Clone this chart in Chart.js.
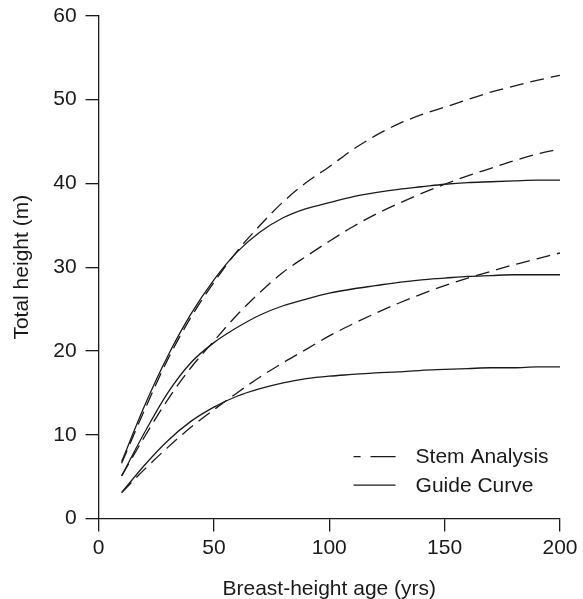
<!DOCTYPE html>
<html>
<head>
<meta charset="utf-8">
<script src="https://cdn.jsdelivr.net/npm/chart.js@4.4.0/dist/chart.umd.min.js"></script>
<style>
  html, body { margin: 0; padding: 0; background: #fff; }
  #wrap { width: 583px; height: 599px; }
</style>
</head>
<body>
<div id="wrap"><canvas id="heightChart" width="583" height="599"></canvas></div>
<script>
// --- Data ---
const ages = [10, 20, 30, 40, 50, 60, 70, 80, 90, 100, 110, 120, 130, 140, 150, 160, 170, 180, 190, 200];

// stem analysis (dashed)
const stemTop = [6.6, 13.0, 19.0, 24.0, 28.2, 31.9, 35.0, 37.8, 40.1, 42.0, 44.0, 45.7, 47.1, 48.2, 49.1, 50.0, 50.9, 51.6, 52.3, 52.9];
const stemMid = [5.1, 9.8, 14.2, 18.0, 21.2, 24.3, 27.0, 29.4, 31.3, 33.1, 34.8, 36.3, 37.6, 38.8, 39.9, 40.9, 41.8, 42.7, 43.5, 44.1];
const stemLow = [3.1, 5.9, 8.5, 10.9, 13.0, 15.0, 16.9, 18.6, 20.2, 21.8, 23.2, 24.5, 25.7, 26.8, 27.8, 28.7, 29.5, 30.3, 31.0, 31.7];

// guide curves (solid)
const guideTop = [6.8, 13.5, 19.4, 24.4, 28.5, 31.8, 34.2, 35.9, 37.0, 37.7, 38.4, 38.9, 39.3, 39.6, 39.9, 40.1, 40.2, 40.3, 40.4, 40.4];
const guideMid = [5.1, 10.3, 15.0, 18.6, 21.0, 22.8, 24.3, 25.4, 26.2, 26.9, 27.4, 27.8, 28.2, 28.5, 28.7, 28.9, 29.0, 29.1, 29.1, 29.1];
const guideLow = [3.1, 6.4, 9.3, 11.6, 13.3, 14.6, 15.5, 16.2, 16.7, 17.0, 17.2, 17.4, 17.5, 17.7, 17.8, 17.9, 18.0, 18.0, 18.1, 18.1];

const xTicks = [0, 50, 100, 150, 200];
const yTicks = [0, 10, 20, 30, 40, 50, 60];

const legendItems = ['Stem Analysis', 'Guide Curve'];

const FONT = '"Liberation Sans", Arial, Helvetica, sans-serif';
const FSIZE = 21;
const INK = '#1a1a1a';
const DASH = [14, 7];

const toPoints = (vals) => ages.map((a, i) => ({ x: a, y: vals[i] }));

const makeSet = (label, vals, dashed) => ({
  label: label,
  data: toPoints(vals),
  borderColor: INK,
  borderWidth: 1.3,
  borderDash: dashed ? DASH : [],
  pointRadius: 0,
  fill: false,
  cubicInterpolationMode: 'monotone'
});

// draws the little legend box in the lower right of the plot
const insideLegend = {
  id: 'insideLegend',
  afterDraw(chart) {
    const ctx = chart.ctx;
    const area = chart.chartArea;
    const x0 = area.left + 255;
    const x1 = x0 + 42;
    const rows = [
      { text: legendItems[0], dash: [25, 10], offset: 18, y: area.bottom - 62 },
      { text: legendItems[1], dash: [], offset: 0, y: area.bottom - 33.5 }
    ];
    ctx.save();
    ctx.strokeStyle = INK;
    ctx.lineWidth = 1.3;
    ctx.fillStyle = INK;
    ctx.font = FSIZE + 'px ' + FONT;
    ctx.textBaseline = 'middle';
    rows.forEach(r => {
      ctx.setLineDash(r.dash);
      ctx.lineDashOffset = r.offset;
      ctx.beginPath();
      ctx.moveTo(x0, r.y);
      ctx.lineTo(x1, r.y);
      ctx.stroke();
      ctx.setLineDash([]);
      ctx.fillText(r.text, x1 + 20, r.y + 1);
    });
    ctx.restore();
  }
};

new Chart(document.getElementById('heightChart').getContext('2d'), {
  type: 'line',
  data: {
    datasets: [
      makeSet(legendItems[0], stemTop, true),
      makeSet('', stemMid, true),
      makeSet('', stemLow, true),
      makeSet(legendItems[1], guideTop, false),
      makeSet('', guideMid, false),
      makeSet('', guideLow, false)
    ]
  },
  options: {
    responsive: false,
    animation: false,
    layout: { padding: { left: 9.5, right: 23, top: 0, bottom: -3 } },
    plugins: {
      legend: { display: false },
      tooltip: { enabled: false }
    },
    scales: {
      x: {
        type: 'linear',
        min: 0,
        max: 200,
        afterBuildTicks: (axis) => { axis.ticks = xTicks.map(v => ({ value: v })); },
        grid: {
          drawOnChartArea: false,
          drawTicks: true,
          tickLength: 13,
          color: INK,
          lineWidth: 1.3
        },
        border: { display: true, color: INK, width: 1.3 },
        ticks: {
          color: INK,
          font: { family: FONT, size: FSIZE },
          padding: 4,
          maxRotation: 0
        },
        title: {
          display: true,
          text: 'Breast-height age (yrs)',
          color: INK,
          font: { family: FONT, size: FSIZE },
          padding: { top: 12, bottom: 0 }
        }
      },
      y: {
        min: 0,
        max: 60,
        afterBuildTicks: (axis) => { axis.ticks = yTicks.map(v => ({ value: v })); },
        grid: {
          drawOnChartArea: false,
          drawTicks: true,
          tickLength: 13,
          color: INK,
          lineWidth: 1.3
        },
        border: { display: true, color: INK, width: 1.3 },
        ticks: {
          color: INK,
          font: { family: FONT, size: FSIZE, lineHeight: 0.65 },
          padding: 9
        },
        title: {
          display: true,
          text: 'Total height (m)',
          color: INK,
          font: { family: FONT, size: FSIZE },
          padding: { top: 0, bottom: 9.5 }
        }
      }
    }
  },
  plugins: [insideLegend]
});
</script>
</body>
</html>
